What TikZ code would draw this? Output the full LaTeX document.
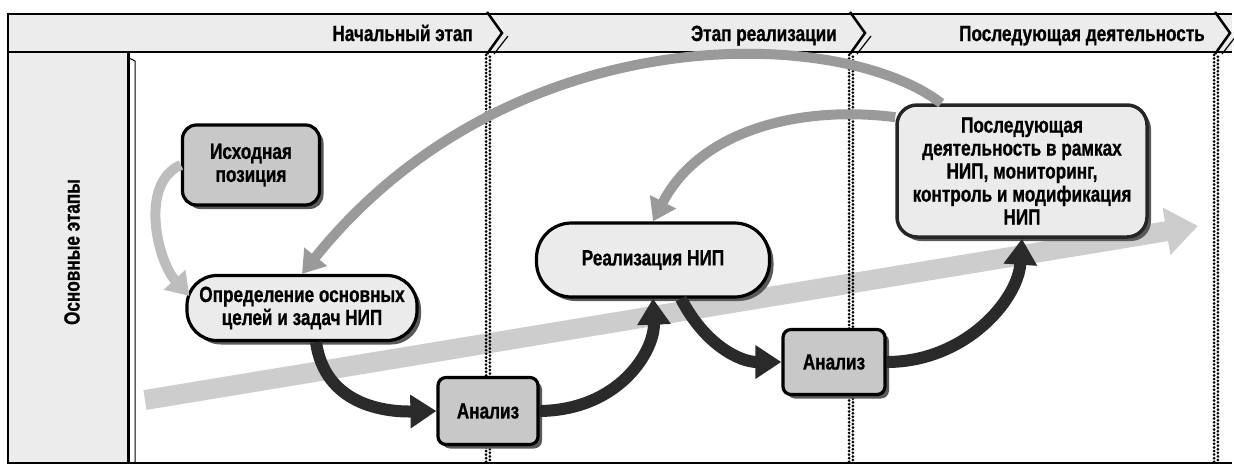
\documentclass[tikz,border=0pt]{standalone}
\usepackage{fontspec}
\setmainfont{Liberation Sans}[FakeStretch=0.78, BoldFeatures={FakeBold=0.8}]
\usetikzlibrary{arrows.meta,shadows,calc}
\definecolor{hdr}{HTML}{ECECEC}
\definecolor{boxlight}{HTML}{EBEBEB}
\definecolor{boxmid}{HTML}{C8C8C8}
\definecolor{darkarrow}{HTML}{2A2A2A}
\definecolor{grayarc}{HTML}{9A9A9A}
\definecolor{lightarc}{HTML}{BDBDBD}
\definecolor{bgarrow}{HTML}{CDCDCD}
\tikzset{
  txt/.style={font=\fontsize{22pt}{23pt}\selectfont\bfseries, align=center, inner sep=0pt},
  stage/.style={txt, draw=black, line width=3.2pt,
    drop shadow={shadow xshift=4pt, shadow yshift=-4pt, fill=black!65, opacity=1}},
  dotline/.style={line width=3pt, dash pattern=on 0pt off 3.6pt, line cap=round},
  frameline/.style={line width=2.5pt},
  darkst/.style={draw=darkarrow, line width=12pt, -{Triangle[width=32pt,length=26pt]}},
  grayarcst/.style={draw=grayarc, line width=10pt, -{Triangle[width=28pt,length=22pt]}},
  lightarcst/.style={draw=lightarc, line width=10pt, -{Triangle[width=28pt,length=22pt]}},
  bgarrowst/.style={draw=bgarrow, line width=20pt, -{Triangle[width=46pt,length=32pt]}}
}
\begin{document}
\begin{tikzpicture}[x=1pt,y=-1pt]
\useasboundingbox (0,0) rectangle (1234,467);
% header band and left column
\fill[hdr] (8,14) rectangle (1232,52);
\fill[hdr] (8,52) rectangle (128,463);
% background arrow
\coordinate (bgs) at (145,400);
\coordinate (bge) at (1198,226);
\draw[bgarrowst] (bgs) -- (bge);
% dotted stage separators
\foreach \c in {488,851,1216} {
  \draw[dotline] (\c-1.9,55) -- (\c-1.9,463);
  \draw[dotline] (\c+1.9,56.8) -- (\c+1.9,463);
}
% frame
\draw[frameline] (1232,14) -- (8,14) -- (8,463) -- (1232,463);
\draw[frameline] (8,52) -- (1232,52);
\draw[line width=3pt] (128,52) -- (128,463);
\draw[line width=1pt] (129,58) -- (135,61) -- (135,463);
% chevrons
\foreach \c in {488,851,1216} {
  \fill[hdr] (\c-1,15.5) -- (\c+14,33) -- (\c-1,50.5) -- cycle;
  \draw[line width=2.5pt, line join=miter] (\c-1,12) -- (\c+14,33) -- (\c-1,54);
  \draw[line width=1.2pt] (\c+20,36) -- (\c+6,54);
}
% header texts
\node[txt, anchor=base east] (h1) at (473,41) {Начальный этап};
\node[txt, anchor=base east] (h2) at (837,41) {Этап реализации};
\node[txt, anchor=base east] (h3) at (1205,41) {Последующая деятельность};
% column label
\node[txt, rotate=90] (col) at (72,252) {Основные этапы};
% nodes
\node[stage, fill=boxmid, rounded corners=14pt, minimum width=137pt, minimum height=80pt] (isx) at (251,165) {Исходная\\позиция};
\node[stage, fill=boxlight, rounded corners=30pt, minimum width=230pt, minimum height=65pt] (opr) at (302,308) {Определение основных\\целей и задач НИП};
\node[stage, fill=boxmid, rounded corners=8pt, minimum width=100pt, minimum height=67pt] (ana1) at (488,411) {Анализ};
\node[stage, fill=boxlight, rounded corners=35pt, minimum width=233pt, minimum height=74pt] (real) at (653,260) {Реализация НИП};
\node[stage, fill=boxmid, rounded corners=8pt, minimum width=102pt, minimum height=65pt] (ana2) at (834,362) {Анализ};
\node[stage, fill=boxlight, draw=black!85, line width=3.5pt, rounded corners=20pt, minimum width=250pt, minimum height=132pt] (post) at (1022,171) {Последующая\\деятельность в рамках\\НИП, мониторинг,\\контроль и модификация\\НИП};
% connectors
\draw[lightarcst] (isx.west) .. controls +(-42,18) and +(-32,-35) .. ($(opr.west)+(4,-12)$);
\draw[grayarcst] (post.140) .. controls (840,25) and (510,15) .. (opr.north);
\draw[grayarcst] (post.157) .. controls (800,105) and (700,130) .. (real.north);
\draw[darkst] ($(opr.south)+(14,0)$) .. controls (325,405) and (385,412) .. (ana1.west);
\draw[darkst] (ana1.east) .. controls (620,410) and (655,350) .. (real.south);
\draw[darkst] ($(real.south)+(28,0)$) .. controls (705,345) and (740,362) .. (ana2.west);
\draw[darkst] (ana2.east) .. controls (965,362) and (1018,300) .. (post.south);
\end{tikzpicture}
\end{document}
